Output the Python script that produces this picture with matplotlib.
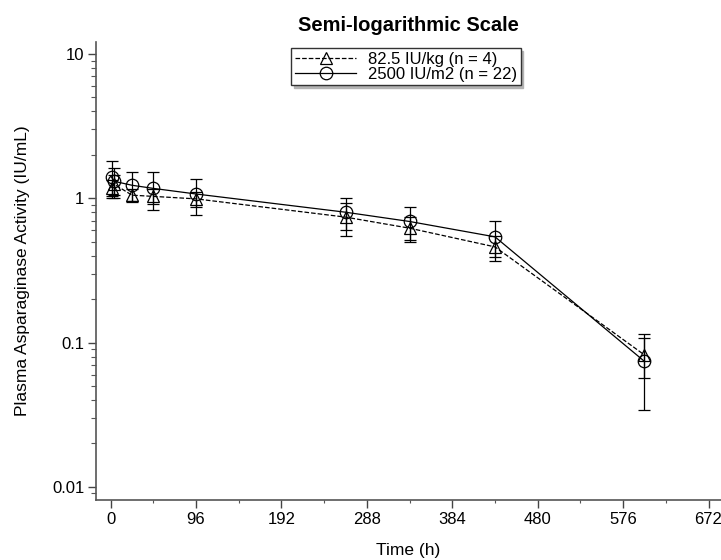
import numpy as np
import matplotlib.pyplot as plt
from matplotlib.lines import Line2D
from matplotlib.ticker import FixedLocator, FixedFormatter, LogLocator, NullFormatter

plt.rcParams['font.family'] = ['Liberation Sans', 'DejaVu Sans']

# Data
time_h = [1, 4, 24, 48, 96, 264, 336, 432, 600]

# 82.5 IU/kg (n = 4)
kg_mean = [1.18, 1.25, 1.05, 1.03, 0.99, 0.74, 0.62, 0.46, 0.082]
kg_sd = [0.15, 0.20, 0.11, 0.12, 0.12, 0.19, 0.12, 0.09, 0.025]

# 2500 IU/m2 (n = 22)
m2_mean = [1.40, 1.31, 1.23, 1.17, 1.07, 0.80, 0.69, 0.54, 0.074]
m2_sd = [0.40, 0.30, 0.28, 0.34, 0.30, 0.20, 0.18, 0.15, 0.040]

labels = ['82.5 IU/kg (n = 4)', '2500 IU/m2 (n = 22)']
x_ticks = [0, 96, 192, 288, 384, 480, 576, 672]
y_ticks = [0.01, 0.1, 1, 10]
y_labels = ['0.01', '0.1', '1', '10']

fig = plt.figure(figsize=(7.21, 5.6), dpi=100)
ax = fig.add_axes([0.1331, 0.1071, 0.8669, 0.8179])

ax.errorbar(time_h, kg_mean, yerr=kg_sd, color='black', linestyle='--', linewidth=0.9,
            marker='^', markersize=9, markerfacecolor='none', markeredgewidth=0.9,
            capsize=4.5, elinewidth=0.9, capthick=0.9)
ax.errorbar(time_h, m2_mean, yerr=m2_sd, color='black', linestyle='-', linewidth=0.9,
            marker='o', markersize=9, markerfacecolor='none', markeredgewidth=0.9,
            capsize=4.5, elinewidth=0.9, capthick=0.9)

ax.set_yscale('log')
ax.set_ylim(0.0081, 12.1)
ax.set_xlim(-16.5, 686)

ax.xaxis.set_major_locator(FixedLocator(x_ticks))
ax.xaxis.set_minor_locator(FixedLocator([48 + 96 * i for i in range(7)]))
ax.yaxis.set_major_locator(FixedLocator(y_ticks))
ax.yaxis.set_major_formatter(FixedFormatter(y_labels))
ax.yaxis.set_minor_locator(LogLocator(base=10, subs=np.arange(2, 10)))
ax.yaxis.set_minor_formatter(NullFormatter())

ax.tick_params(which='major', direction='out', length=5.5, width=1, labelsize=12,
               color='#444444', pad=3)
ax.tick_params(axis='y', which='minor', direction='out', length=3.5, width=0.8, color='#555555')
ax.tick_params(axis='x', which='minor', direction='out', length=2, width=0.8, color='#555555')

for side in ['top', 'right']:
    ax.spines[side].set_visible(False)
for side in ['left', 'bottom']:
    ax.spines[side].set_color('#555555')
    ax.spines[side].set_linewidth(1.2)

ax.set_title('Semi-logarithmic Scale', fontsize=14.5, fontweight='bold', pad=8)
ax.set_xlabel('Time (h)', fontsize=12.5, labelpad=12)
ax.set_ylabel('Plasma Asparaginase Activity (IU/mL)', fontsize=12.5, labelpad=16)

handles = [
    Line2D([], [], color='black', linestyle='--', linewidth=0.9, marker='^', markersize=9,
           markerfacecolor='none', markeredgewidth=0.9),
    Line2D([], [], color='black', linestyle='-', linewidth=0.9, marker='o', markersize=9,
           markerfacecolor='none', markeredgewidth=0.9),
]
leg = ax.legend(handles, labels, loc='upper center', bbox_to_anchor=(0.496, 0.986),
                fontsize=12, frameon=True, fancybox=False,
                shadow={'color': '0.7', 'alpha': 1}, edgecolor='#333333', handlelength=3.7,
                borderpad=0.2, labelspacing=0.0, handletextpad=0.7, borderaxespad=0)
leg.get_frame().set_linewidth(1.0)

fig.savefig('out.png', dpi=100)
